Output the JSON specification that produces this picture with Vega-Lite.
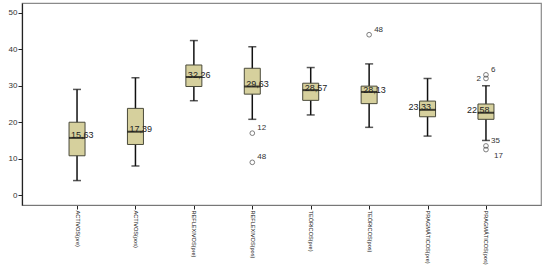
{
  "$schema": "https://vega.github.io/schema/vega-lite/v6.json",
  "width": 519,
  "height": 202,
  "autosize": {"type": "none"},
  "padding": {"left": 22, "top": 3, "right": 6, "bottom": 61},
  "background": "white",
  "config": {
    "view": {"stroke": "#8a8a8a", "strokeWidth": 1.2},
    "axis": {"grid": false}
  },
  "datasets": {
    "boxes": [
      {"group": "ACTIVOS(pre)", "lower": 4, "q1": 10.8, "median": 15.7, "q3": 20, "upper": 29, "mean": 15.63, "meanLabel": "15,63", "shift": "normal"},
      {"group": "ACTIVOS(pos)", "lower": 8, "q1": 13.9, "median": 17.4, "q3": 23.8, "upper": 32.2, "mean": 17.39, "meanLabel": "17,39", "shift": "normal"},
      {"group": "REFLEXIVOS(pre)", "lower": 25.9, "q1": 29.8, "median": 32.4, "q3": 35.7, "upper": 42.4, "mean": 32.26, "meanLabel": "32,26", "shift": "normal"},
      {"group": "REFLEXIVOS(pos)", "lower": 20.8, "q1": 27.7, "median": 29.8, "q3": 34.8, "upper": 40.7, "mean": 29.63, "meanLabel": "29,63", "shift": "normal"},
      {"group": "TEÓRICOS(pre)", "lower": 22, "q1": 26, "median": 28.8, "q3": 30.7, "upper": 35, "mean": 28.57, "meanLabel": "28,57", "shift": "normal"},
      {"group": "TEÓRICOS(pos)", "lower": 18.6, "q1": 25.1, "median": 28.3, "q3": 29.9, "upper": 36, "mean": 28.13, "meanLabel": "28,13", "shift": "normal"},
      {"group": "PRAGMÁTICOS(pre)", "lower": 16.2, "q1": 21.5, "median": 23.4, "q3": 25.8, "upper": 32, "mean": 23.33, "meanLabel": "23,33", "shift": "left"},
      {"group": "PRAGMÁTICOS(pos)", "lower": 15, "q1": 20.8, "median": 22.6, "q3": 25, "upper": 30, "mean": 22.58, "meanLabel": "22,58", "shift": "left"}
    ],
    "outliers": [
      {"group": "REFLEXIVOS(pos)", "value": 17, "label": "12"},
      {"group": "REFLEXIVOS(pos)", "value": 9, "label": "48"},
      {"group": "TEÓRICOS(pos)", "value": 44, "label": "48"},
      {"group": "PRAGMÁTICOS(pos)", "value": 33, "label": "6"},
      {"group": "PRAGMÁTICOS(pos)", "value": 32, "label": "2"},
      {"group": "PRAGMÁTICOS(pos)", "value": 13.5, "label": "35"},
      {"group": "PRAGMÁTICOS(pos)", "value": 12.5, "label": "17"}
    ]
  },
  "encoding": {
    "x": {
      "field": "group",
      "type": "nominal",
      "sort": ["ACTIVOS(pre)", "ACTIVOS(pos)", "REFLEXIVOS(pre)", "REFLEXIVOS(pos)", "TEÓRICOS(pre)", "TEÓRICOS(pos)", "PRAGMÁTICOS(pre)", "PRAGMÁTICOS(pos)"],
      "scale": {"type": "point", "padding": 0.942},
      "axis": {
        "title": null,
        "labelAngle": 90,
        "labelAlign": "left",
        "labelBaseline": "middle",
        "labelFont": "Liberation Sans, Arial, sans-serif",
        "labelFontSize": 5.6,
        "labelColor": "#222",
        "labelPadding": 1,
        "labelLimit": 200,
        "tickSize": 4,
        "tickColor": "#222",
        "domainColor": "#777",
        "domainWidth": 1.2
      }
    }
  },
  "layer": [
    {
      "data": {"name": "boxes"},
      "mark": {"type": "rule", "color": "#111", "strokeWidth": 1.5},
      "encoding": {
        "y": {
          "field": "lower",
          "type": "quantitative",
          "scale": {"domain": [-2.7, 52.7], "nice": false, "zero": false},
          "axis": {
            "title": null,
            "values": [0, 10, 20, 30, 40, 50],
            "labelFont": "Liberation Sans, Arial, sans-serif",
            "labelFontSize": 8,
            "labelColor": "#333",
            "labelPadding": 1,
            "tickSize": 4,
            "tickColor": "#222",
            "domainColor": "#222",
            "domainWidth": 1.2
          }
        },
        "y2": {"field": "upper"}
      }
    },
    {
      "data": {"name": "boxes"},
      "mark": {"type": "tick", "color": "#111", "size": 8, "thickness": 1.5},
      "encoding": {"y": {"field": "lower", "type": "quantitative"}}
    },
    {
      "data": {"name": "boxes"},
      "mark": {"type": "tick", "color": "#111", "size": 8, "thickness": 1.5},
      "encoding": {"y": {"field": "upper", "type": "quantitative"}}
    },
    {
      "data": {"name": "boxes"},
      "mark": {"type": "bar", "size": 16, "fill": "#d6d09d", "stroke": "#4a4a3a", "strokeWidth": 1},
      "encoding": {
        "y": {"field": "q1", "type": "quantitative"},
        "y2": {"field": "q3"}
      }
    },
    {
      "data": {"name": "boxes"},
      "mark": {"type": "tick", "color": "#000", "size": 16, "thickness": 2},
      "encoding": {"y": {"field": "median", "type": "quantitative"}}
    },
    {
      "data": {"name": "boxes"},
      "transform": [{"filter": "datum.shift == 'normal'"}],
      "mark": {"type": "text", "align": "left", "baseline": "alphabetic", "dx": -6, "fontSize": 9, "font": "Liberation Sans, Arial, sans-serif", "color": "#222"},
      "encoding": {
        "y": {"field": "mean", "type": "quantitative"},
        "text": {"field": "meanLabel"}
      }
    },
    {
      "data": {"name": "boxes"},
      "transform": [{"filter": "datum.shift == 'left'"}],
      "mark": {"type": "text", "align": "left", "baseline": "alphabetic", "dx": -19, "fontSize": 9, "font": "Liberation Sans, Arial, sans-serif", "color": "#222"},
      "encoding": {
        "y": {"field": "mean", "type": "quantitative"},
        "text": {"field": "meanLabel"}
      }
    },
    {
      "data": {"name": "outliers"},
      "mark": {"type": "point", "shape": "circle", "filled": false, "size": 22, "stroke": "#333", "strokeWidth": 0.9},
      "encoding": {"y": {"field": "value", "type": "quantitative"}}
    },
    {
      "data": {"name": "outliers"},
      "transform": [{"filter": "datum.label != '2' && datum.label != '17'"}],
      "mark": {"type": "text", "align": "left", "baseline": "middle", "dx": 5, "dy": -5, "fontSize": 8, "font": "Liberation Sans, Arial, sans-serif", "color": "#333"},
      "encoding": {
        "y": {"field": "value", "type": "quantitative"},
        "text": {"field": "label"}
      }
    },
    {
      "data": {"name": "outliers"},
      "transform": [{"filter": "datum.label == '17'"}],
      "mark": {"type": "text", "align": "left", "baseline": "middle", "dx": 8, "dy": 6, "fontSize": 8, "font": "Liberation Sans, Arial, sans-serif", "color": "#333"},
      "encoding": {
        "y": {"field": "value", "type": "quantitative"},
        "text": {"field": "label"}
      }
    },
    {
      "data": {"name": "outliers"},
      "transform": [{"filter": "datum.label == '2'"}],
      "mark": {"type": "text", "align": "right", "baseline": "middle", "dx": -5, "dy": 1, "fontSize": 8, "font": "Liberation Sans, Arial, sans-serif", "color": "#333"},
      "encoding": {
        "y": {"field": "value", "type": "quantitative"},
        "text": {"field": "label"}
      }
    }
  ]
}
